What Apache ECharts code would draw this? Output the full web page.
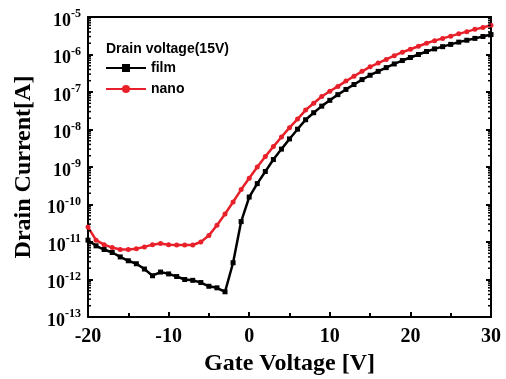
<!DOCTYPE html>
<html>
<head>
<meta charset="utf-8">
<script src="https://cdn.jsdelivr.net/npm/echarts@6/dist/echarts.min.js"></script>
<style>
  html, body { margin: 0; padding: 0; background: #fff; }
  #main { width: 506px; height: 379px; }
</style>
</head>
<body>
<div id="main"></div>
<script>
// gate voltage sweep, 1 V steps
var gateVoltage = [];
for (var v = -20; v <= 30; v++) gateVoltage.push(v);

// drain current [A]
var filmCurrent = [
  1.12e-11, 7.9e-12, 6.3e-12, 5.25e-12, 4.0e-12, 3.16e-12, 2.63e-12, 1.9e-12, 1.26e-12, 1.58e-12,
  1.41e-12, 1.2e-12, 1.0e-12, 9.5e-13, 8.3e-13, 6.6e-13, 6.0e-13, 4.7e-13, 2.8e-12, 3.5e-11,
  1.58e-10, 3.6e-10, 7.6e-10, 1.58e-9, 3.0e-9, 5.6e-9, 1.02e-8, 1.82e-8, 2.8e-8, 4.2e-8,
  6.0e-8, 8.5e-8, 1.17e-7, 1.58e-7, 2.14e-7, 2.8e-7, 3.55e-7, 4.47e-7, 5.6e-7, 6.9e-7,
  8.3e-7, 1.0e-6, 1.2e-6, 1.41e-6, 1.62e-6, 1.86e-6, 2.14e-6, 2.4e-6, 2.69e-6, 3.02e-6,
  3.4e-6
];
var nanoCurrent = [
  2.5e-11, 1.12e-11, 8.5e-12, 7.1e-12, 6.3e-12, 6.3e-12, 6.6e-12, 7.4e-12, 8.5e-12, 9.1e-12,
  8.5e-12, 8.3e-12, 8.3e-12, 8.3e-12, 1.0e-11, 1.5e-11, 2.8e-11, 5.6e-11, 1.17e-10, 2.5e-10,
  5.0e-10, 1.0e-9, 1.9e-9, 3.5e-9, 6.3e-9, 1.12e-8, 1.9e-8, 3.3e-8, 5.0e-8, 7.6e-8,
  1.05e-7, 1.41e-7, 1.95e-7, 2.63e-7, 3.55e-7, 4.68e-7, 5.9e-7, 7.4e-7, 9.3e-7, 1.15e-6,
  1.38e-6, 1.66e-6, 2.0e-6, 2.34e-6, 2.69e-6, 3.09e-6, 3.55e-6, 4.07e-6, 4.68e-6, 5.25e-6,
  6.0e-6
];

// log minor tick positions (2..9 x 10^n) for both y edges
var minorTickValues = [];
for (var n = -13; n < -5; n++) {
  for (var k = 2; k <= 9; k++) minorTickValues.push([-20, k * Math.pow(10, n)]);
}

function pairs(ys) {
  return gateVoltage.map(function (x, i) { return [x, ys[i]]; });
}

var serif = '"Liberation Serif", "Times New Roman", serif';
var sans = '"Liberation Sans", Arial, sans-serif';

var myChart = echarts.init(document.getElementById('main'));

var yLabel = {
  fontFamily: serif,
  margin: 7,
  formatter: function (val) {
    var e = Math.round(Math.log10(val));
    return '{b|10}{e|' + e + '}';
  },
  rich: {
    b: { fontFamily: serif, fontWeight: 'bold', fontSize: 18, color: '#000', padding: [8, 0, 0, 0] },
    e: { fontFamily: serif, fontWeight: 'bold', fontSize: 12, color: '#000', padding: [0, 0, 6, 0] }
  }
};

var tickStyle = { show: true, inside: true, length: 5, lineStyle: { color: '#000', width: 2 } };

var option = {
  animation: false,
  title: {
    text: 'Drain voltage(15V)',
    left: 101,
    top: 37,
    textStyle: { fontFamily: sans, fontWeight: 'bold', fontSize: 14, color: '#000' }
  },
  legend: {
    orient: 'vertical',
    left: 100,
    top: 56,
    itemWidth: 40,
    itemHeight: 10,
    itemGap: 7,
    textStyle: { fontFamily: sans, fontWeight: 'bold', fontSize: 14, color: '#000' },
    data: ['film', 'nano']
  },
  grid: { left: 88, right: 15, top: 17, bottom: 62, outerBoundsMode: 'none' },
  xAxis: [{
    type: 'value',
    min: -20, max: 30, interval: 10,
    name: 'Gate Voltage [V]',
    nameLocation: 'middle',
    nameGap: 33,
    nameTextStyle: { fontFamily: serif, fontWeight: 'bold', fontSize: 24, color: '#000' },
    axisLine: { show: true, onZero: false, lineStyle: { color: '#000', width: 2 } },
    axisTick: tickStyle,
    minorTick: { show: true, splitNumber: 2, length: 4, lineStyle: { color: '#000', width: 2 } },
    axisLabel: { fontFamily: serif, fontWeight: 'bold', fontSize: 20, color: '#000', margin: 10 },
    splitLine: { show: false }
  }, {
    type: 'value',
    position: 'top',
    min: -20, max: 30,
    axisLine: { show: true, onZero: false, lineStyle: { color: '#000', width: 2 } },
    axisTick: { show: false },
    axisLabel: { show: false },
    splitLine: { show: false }
  }],
  yAxis: [{
    type: 'log',
    logBase: 10,
    min: 1e-13, max: 1e-5,
    name: 'Drain Current[A]',
    nameLocation: 'middle',
    nameGap: 50,
    nameTextStyle: { fontFamily: serif, fontWeight: 'bold', fontSize: 24, color: '#000' },
    axisLine: { show: true, onZero: false, lineStyle: { color: '#000', width: 2 } },
    axisTick: tickStyle,
    axisLabel: yLabel,
    splitLine: { show: false }
  }, {
    type: 'log',
    logBase: 10,
    position: 'right',
    min: 1e-13, max: 1e-5,
    axisLine: { show: true, onZero: false, lineStyle: { color: '#000', width: 2 } },
    axisTick: tickStyle,
    axisLabel: { show: false },
    splitLine: { show: false }
  }],
  series: [
    {
      name: 'film',
      type: 'line',
      data: pairs(filmCurrent),
      symbol: 'rect',
      symbolSize: 5,
      color: '#000000',
      lineStyle: { width: 2.5, color: '#000000' },
      itemStyle: { color: '#000000' },
      z: 2
    },
    {
      name: 'nano',
      type: 'line',
      data: pairs(nanoCurrent),
      symbol: 'circle',
      symbolSize: 5,
      color: '#e8202a',
      lineStyle: { width: 2.5, color: '#e8202a' },
      itemStyle: { color: '#e8202a' },
      z: 3
    },
    {
      // minor ticks of the log axes
      name: 'minorTicks',
      type: 'custom',
      silent: true,
      clip: false,
      data: minorTickValues,
      renderItem: function (params, api) {
        var left = api.coord([-20, api.value(1)]);
        var right = api.coord([30, api.value(1)]);
        var style = { stroke: '#000', lineWidth: 1.5, fill: null };
        return {
          type: 'group',
          children: [
            { type: 'line', shape: { x1: left[0], y1: left[1], x2: left[0] + 3, y2: left[1] }, style: style },
            { type: 'line', shape: { x1: right[0], y1: right[1], x2: right[0] - 3, y2: right[1] }, style: style }
          ]
        };
      },
      z: 5
    }
  ]
};

option && myChart.setOption(option);
</script>
</body>
</html>
